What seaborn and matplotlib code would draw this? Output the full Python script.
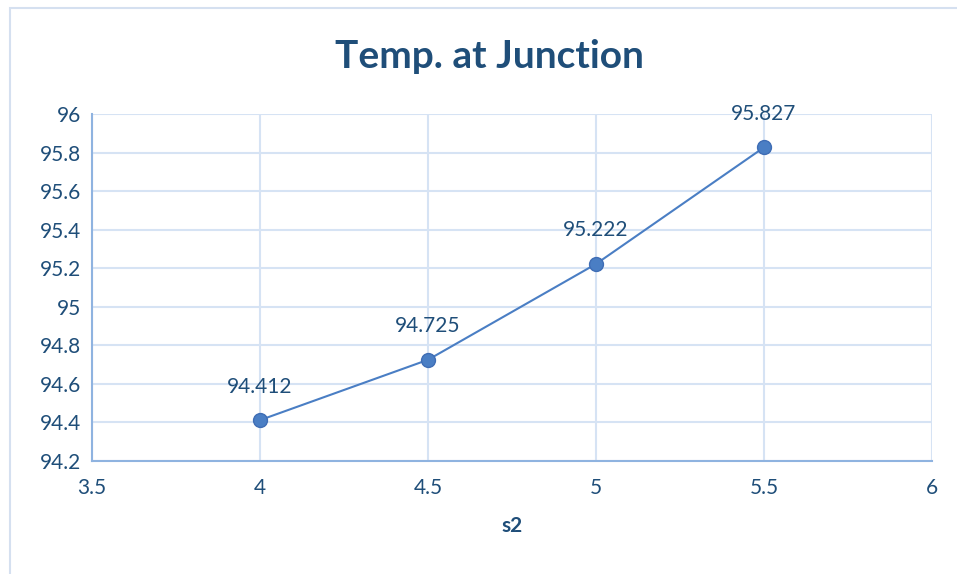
import matplotlib
matplotlib.use("Agg")
import matplotlib.pyplot as plt
import seaborn as sns
import pandas as pd
from matplotlib.patches import Rectangle

s2 = [4.0, 4.5, 5.0, 5.5]
temp = [94.412, 94.725, 95.222, 95.827]
labels = ["94.412", "94.725", "95.222", "95.827"]
xticks = [3.5, 4, 4.5, 5, 5.5, 6]
xticklabels = ["3.5", "4", "4.5", "5", "5.5", "6"]
yticks = [94.2, 94.4, 94.6, 94.8, 95.0, 95.2, 95.4, 95.6, 95.8, 96.0]
yticklabels = ["94.2", "94.4", "94.6", "94.8", "95", "95.2", "95.4", "95.6", "95.8", "96"]

sns.set_theme(style="white")
plt.rcParams['font.family'] = ['Lato', 'DejaVu Sans']

text_c = "#1F4E79"
line_c = "#4A7EC4"
grid_c = "#D6E3F4"
spine_c = "#8FB3E0"

fig = plt.figure(figsize=(9.57, 5.74), dpi=100)
ax = fig.add_axes([92/957, 1-461/574, (932-92)/957, (461-114)/574])

df = pd.DataFrame({"s2": s2, "temp": temp})
sns.lineplot(data=df, x="s2", y="temp", ax=ax, color=line_c, linewidth=1.5,
             marker="o", markersize=10, markerfacecolor=line_c,
             markeredgecolor="#3F6DB5", markeredgewidth=1, zorder=3)

for x, y, t in zip(s2, temp, labels):
    ax.annotate(t, (x, y), xytext=(0, 17), textcoords="offset points",
                ha="center", va="bottom", fontsize=15, color=text_c)

ax.set_xlim(3.5, 6)
ax.set_ylim(94.2, 96)
ax.set_xticks(xticks)
ax.set_xticklabels(xticklabels)
ax.set_yticks(yticks)
ax.set_yticklabels(yticklabels)
ax.tick_params(axis="both", colors=text_c, labelsize=15, length=0, pad=12)
ax.tick_params(axis="y", pad=8)
ax.grid(True, color=grid_c, linewidth=1.5)
for side in ["top", "right"]:
    ax.spines[side].set_visible(False)
for side in ["left", "bottom"]:
    ax.spines[side].set_color(spine_c)
    ax.spines[side].set_linewidth(1.5)

ax.set_xlabel("s2", fontsize=15, fontweight="bold", color=text_c, labelpad=13)
ax.set_ylabel("")
fig.text(489/957, 1-56/574, "Temp. at Junction", ha="center", va="center",
         fontsize=28, fontweight="bold", color=text_c)

fig.patches.append(Rectangle((10/957, -0.5), 1.2, 1.5-8/574, transform=fig.transFigure,
                             fill=False, edgecolor="#D5E0F0", linewidth=1.5))

fig.savefig("out.png", dpi=100)
